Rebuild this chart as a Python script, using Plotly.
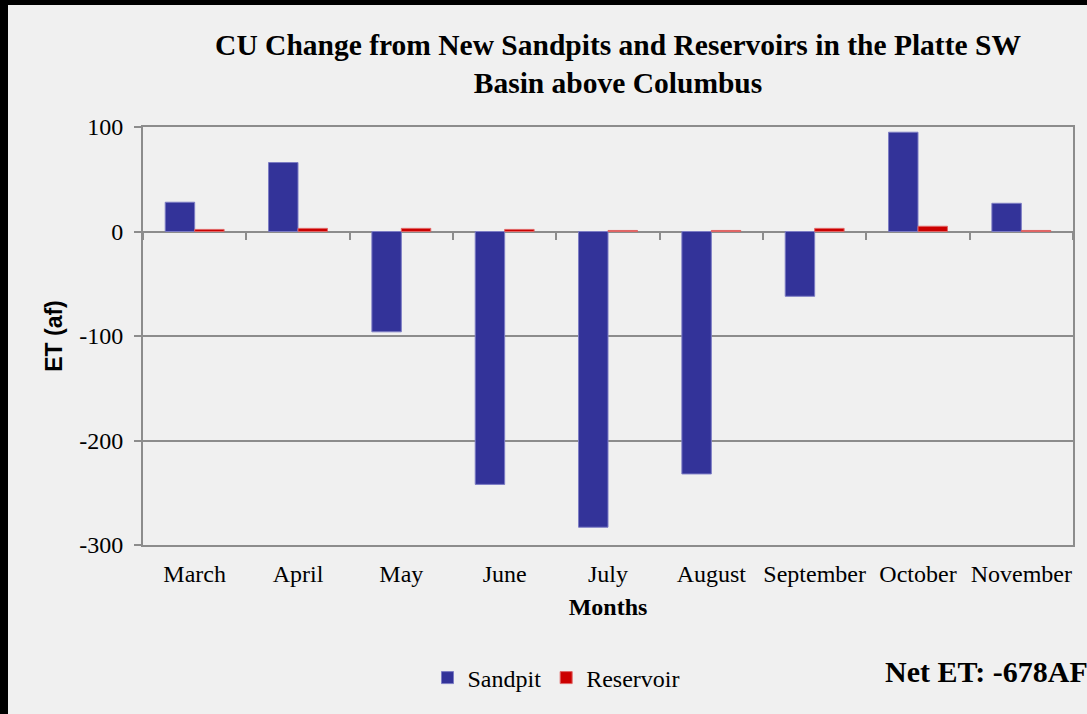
import plotly.graph_objects as go

months = ["March", "April", "May", "June", "July", "August", "September", "October", "November"]
sandpit = [28, 66, -96, -242, -283, -232, -62, 95, 27]
reservoir = [2, 3, 3, 2, 1, 1, 3, 5, 1]
y_ticks = [100, 0, -100, -200, -300]

W, H = 1087, 714
ML, MR, MT, MB = 143, 14, 127, 169
PW, PH = W - ML - MR, H - MT - MB
BG = "#f0f0f0"
GRID = "#8c8c8c"
SERIF = "Liberation Serif"
SANS = "Liberation Sans"

def px_x(px):
    return (px - ML) / PW

def px_y(py):
    return (H - MB - py) / PH

fig = go.Figure()
fig.add_trace(go.Bar(name="Sandpit", x=months, y=sandpit,
                     marker=dict(color="#333399", line=dict(color="#7c7cc4", width=1))))
fig.add_trace(go.Bar(name="Reservoir", x=months, y=reservoir,
                     marker=dict(color="#cc0000", line=dict(color="#e06666", width=1))))
# helper trace for the category tick marks on the zero line
fig.add_trace(go.Scatter(x=months, y=[None] * len(months), xaxis="x2", yaxis="y",
                         showlegend=False, hoverinfo="skip", mode="markers"))

ymin, ymax = -300, 100
fig.update_layout(
    width=W, height=H,
    margin=dict(l=ML, r=MR, t=MT, b=MB),
    paper_bgcolor=BG, plot_bgcolor=BG,
    barmode="group", bargap=0.43, bargroupgap=0,
    font=dict(family=SERIF, size=24, color="black"),
    title=dict(text="<b>CU Change from New Sandpits and Reservoirs in the Platte SW<br>Basin above Columbus</b>",
               x=px_x(618), xref="paper", xanchor="center",
               y=1 - 55 / H, yanchor="middle",
               font=dict(family=SERIF, size=29.5, color="black")),
    xaxis=dict(type="category", categoryorder="array", categoryarray=months,
               range=[-0.5, len(months) - 0.5],
               showline=True, linecolor=GRID, linewidth=2, mirror=True,
               ticks="", ticklabelstandoff=6,
               tickfont=dict(family=SERIF, size=24),
               title=dict(text="<b>Months</b>", font=dict(family=SERIF, size=24), standoff=12)),
    xaxis2=dict(type="category", categoryorder="array", categoryarray=months,
                range=[-0.5, len(months) - 0.5], overlaying="x", anchor="free",
                position=(0 - ymin) / (ymax - ymin),
                showline=False, showgrid=False, zeroline=False,
                ticks="outside", ticklen=7, tickwidth=2, tickcolor=GRID,
                tickson="boundaries", showticklabels=False),
    yaxis=dict(range=[ymin, ymax], tickvals=y_ticks, ticktext=[str(v) for v in y_ticks],
               showline=True, linecolor=GRID, linewidth=2, mirror=True,
               showgrid=True, gridcolor=GRID, gridwidth=2, zeroline=False,
               ticks="outside", ticklen=7, tickwidth=2, tickcolor=GRID,
               ticklabelstandoff=6,
               tickfont=dict(family=SERIF, size=24),
               title=dict(text="<b>ET (af)</b>", font=dict(family=SANS, size=23), standoff=10)),
    legend=dict(orientation="h", x=px_x(556), xanchor="center", y=px_y(678), yanchor="middle",
                font=dict(family=SERIF, size=24, color="black"), bgcolor="rgba(0,0,0,0)",
                itemwidth=30, tracegroupgap=0),
    annotations=[dict(text="<b>Net ET: -678AF</b>", xref="paper", yref="paper",
                      x=px_x(883), y=px_y(671), xanchor="left", yanchor="middle",
                      showarrow=False, font=dict(family=SERIF, size=30, color="black"))],
    shapes=[
        dict(type="rect", xref="paper", yref="paper", x0=px_x(-5), x1=px_x(8), y0=px_y(H + 5), y1=px_y(-5),
             fillcolor="black", line=dict(width=0), layer="above"),
        dict(type="rect", xref="paper", yref="paper", x0=px_x(-5), x1=px_x(W + 5), y0=px_y(5), y1=px_y(-5),
             fillcolor="black", line=dict(width=0), layer="above"),
    ],
)

fig.write_html("out.html", config={"displayModeBar": False},
               post_script="document.body.style.margin='0';document.body.style.overflow='hidden';")
